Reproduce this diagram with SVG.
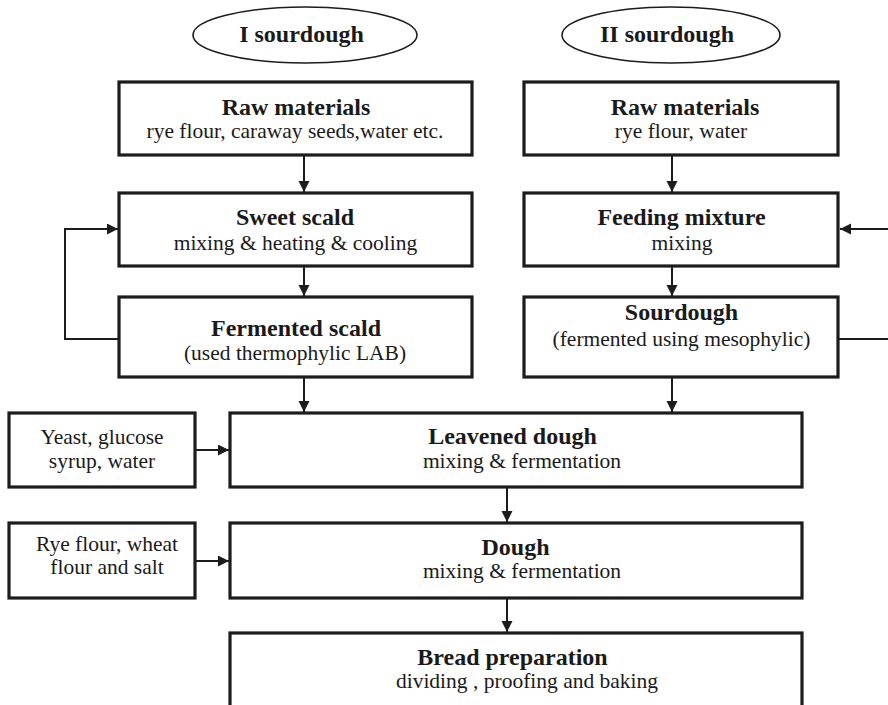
<svg xmlns="http://www.w3.org/2000/svg" width="888" height="705" viewBox="0 0 888 705">
<style>
.box{fill:#fff;stroke:#1c1c1c;stroke-width:3.2}
.ell{fill:#fff;stroke:#1c1c1c;stroke-width:1.6}
.t{font-family:"Liberation Serif","Times New Roman",serif;font-weight:bold;font-size:24px;fill:#1a1a1a;text-anchor:middle}
.s{font-family:"Liberation Serif","Times New Roman",serif;font-size:21.5px;fill:#1a1a1a;text-anchor:middle}
.c{fill:none;stroke:#1c1c1c;stroke-width:2}
</style>
<defs>
<marker id="ah" markerUnits="userSpaceOnUse" markerWidth="12" markerHeight="12" refX="11" refY="5.5" orient="auto">
<path d="M0,0 L11,5.5 L0,11 Z" fill="#1c1c1c"/>
</marker>
</defs>
<rect width="888" height="705" fill="#fff"/>
<g id="connectors">
<path class="c" d="M304,155 V192" marker-end="url(#ah)"/>
<path class="c" d="M304,266 V296" marker-end="url(#ah)"/>
<path class="c" d="M119,339 H65 V229 H118" marker-end="url(#ah)"/>
<path class="c" d="M672,155 V192" marker-end="url(#ah)"/>
<path class="c" d="M672,266 V296" marker-end="url(#ah)"/>
<path class="c" d="M838,339 H895 V229 H840" marker-end="url(#ah)"/>
<path class="c" d="M304,377 V412" marker-end="url(#ah)"/>
<path class="c" d="M672,377 V412" marker-end="url(#ah)"/>
<path class="c" d="M195,450 H229" marker-end="url(#ah)"/>
<path class="c" d="M507,487 V522" marker-end="url(#ah)"/>
<path class="c" d="M195,561 H229" marker-end="url(#ah)"/>
<path class="c" d="M507,598 V632" marker-end="url(#ah)"/>
</g>
<g id="sourdough1">
<ellipse class="ell" cx="305" cy="35" rx="112" ry="28"/>
<text class="t" x="301.5" y="42">I sourdough</text>
</g>
<g id="sourdough2">
<ellipse class="ell" cx="671" cy="35" rx="109" ry="28"/>
<text class="t" x="667" y="42">II sourdough</text>
</g>
<g id="raw1">
<rect class="box" x="119" y="82" width="353" height="73"/>
<text class="t" x="296" y="115">Raw materials</text>
<text class="s" x="295" y="138">rye flour, caraway seeds,water etc.</text>
</g>
<g id="raw2">
<rect class="box" x="524" y="82" width="314" height="73"/>
<text class="t" x="685" y="115">Raw materials</text>
<text class="s" x="681" y="138">rye flour, water</text>
</g>
<g id="sweetscald">
<rect class="box" x="119" y="193" width="353" height="73"/>
<text class="t" x="295" y="225">Sweet scald</text>
<text class="s" x="295.5" y="250">mixing &amp; heating &amp; cooling</text>
</g>
<g id="feeding">
<rect class="box" x="524" y="193" width="314" height="73"/>
<text class="t" x="681.5" y="225">Feeding mixture</text>
<text class="s" x="682" y="250">mixing</text>
</g>
<g id="fermentedscald">
<rect class="box" x="119" y="297" width="353" height="80"/>
<text class="t" x="296" y="336">Fermented scald</text>
<text class="s" x="295" y="360">(used thermophylic LAB)</text>
</g>
<g id="sourdough">
<rect class="box" x="524" y="297" width="314" height="80"/>
<text class="t" x="681.5" y="320">Sourdough</text>
<text class="s" x="681.5" y="346">(fermented using mesophylic)</text>
</g>
<g id="yeast">
<rect class="box" x="9" y="413" width="186" height="74"/>
<text class="s" x="102" y="444">Yeast, glucose</text>
<text class="s" x="102" y="468">syrup, water</text>
</g>
<g id="leavened">
<rect class="box" x="230" y="413" width="572" height="74"/>
<text class="t" x="512.5" y="444">Leavened dough</text>
<text class="s" x="522" y="468">mixing &amp; fermentation</text>
</g>
<g id="ryeflour">
<rect class="box" x="9" y="523" width="186" height="75"/>
<text class="s" x="107" y="551">Rye flour, wheat</text>
<text class="s" x="107" y="574">flour and salt</text>
</g>
<g id="dough">
<rect class="box" x="230" y="523" width="572" height="75"/>
<text class="t" x="515.5" y="555">Dough</text>
<text class="s" x="522" y="578">mixing &amp; fermentation</text>
</g>
<g id="bread">
<rect class="box" x="230" y="633" width="572" height="90"/>
<text class="t" x="512.5" y="665">Bread preparation</text>
<text class="s" x="527" y="688">dividing , proofing and baking</text>
</g>
</svg>
